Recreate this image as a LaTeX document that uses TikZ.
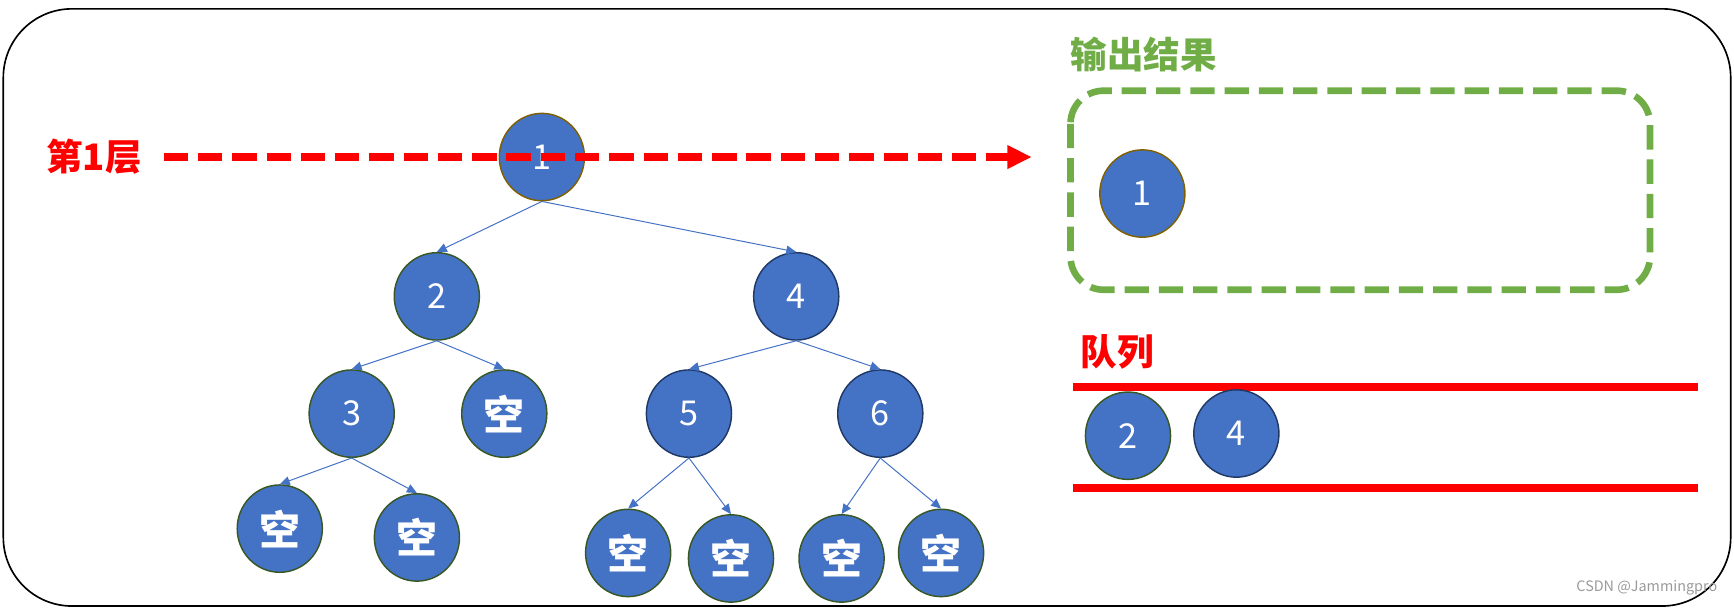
\documentclass[tikz,border=0pt]{standalone}
\usepackage{fontspec}
\setmainfont{Noto Sans CJK SC}
\usetikzlibrary{shapes.geometric,arrows.meta}
\definecolor{nodeblue}{HTML}{4472C4}
\definecolor{rimgreen}{HTML}{385723}
\definecolor{rimbrown}{HTML}{7F6000}
\definecolor{rimnavy}{HTML}{203864}
\definecolor{outgreen}{HTML}{70AD47}
\definecolor{qred}{HTML}{FF0000}
\definecolor{markgray}{HTML}{9A9A9A}

\begin{document}
\begin{tikzpicture}[x=1pt,y=-1pt,
  tn/.style={ellipse, fill=nodeblue, draw=rimgreen, line width=1.3pt,
    minimum width=77pt, minimum height=79pt, inner sep=0pt, text=white,
    font=\fontsize{31}{31}\selectfont},
  emp/.style={tn, font=\fontsize{37}{37}\selectfont\bfseries},
  brownrim/.style={draw=rimbrown},
  navyrim/.style={draw=rimnavy},
  edge/.style={draw=nodeblue, line width=0.9pt, -{Triangle[length=9pt,width=8pt]}},
  title/.style={font=\fontsize{33}{33}\selectfont\bfseries, inner sep=0pt},
  lvlarrow/.style={draw=qred, line width=6.5pt, dash pattern=on 22pt off 9pt,
    -{Triangle[length=22pt,width=20pt]}},
]
\useasboundingbox (0,0) rectangle (1568,550);

% outer frame
\draw[line width=1.5pt, rounded corners=62pt] (3,8) rectangle (1565,548);

% binary tree
\node[tn, brownrim] (n1) at (490,142) {1};
\node[tn] (n2) at (395,268) {2};
\node[tn, navyrim] (n4) at (720,268) {4};
\node[tn] (n3) at (318,374) {3};
\node[emp] (e2) at (456,374) {空};
\node[tn, navyrim] (n5) at (623,374) {5};
\node[tn, navyrim] (n6) at (796,374) {6};
\node[emp] (e3a) at (253,478) {空};
\node[emp] (e3b) at (377,486) {空};
\node[emp] (e5a) at (568,500) {空};
\node[emp] (e5b) at (661,505) {空};
\node[emp] (e6a) at (761,505) {空};
\node[emp] (e6b) at (851,500) {空};

\draw[edge] (n1.south) -- (n2.north);
\draw[edge] (n1.south) -- (n4.north);
\draw[edge] (n2.south) -- (n3.north);
\draw[edge] (n2.south) -- (e2.north);
\draw[edge] (n4.south) -- (n5.north);
\draw[edge] (n4.south) -- (n6.north);
\draw[edge] (n3.south) -- (e3a.north);
\draw[edge] (n3.south) -- (e3b.north);
\draw[edge] (n5.south) -- (e5a.north);
\draw[edge] (n5.south) -- (e5b.north);
\draw[edge] (n6.south) -- (e6a.north);
\draw[edge] (n6.south) -- (e6b.north);

% level marker
\node[title, text=qred] (lvl) at (85,142) {第1层};
\coordinate (lvlstart) at (148,142);
\coordinate (lvlend) at (933,142);
\draw[lvlarrow] (lvlstart) -- (lvlend);

% output area
\node[title, text=outgreen, anchor=west] (outtitle) at (968,49) {输出结果};
\draw[outgreen, line width=6pt, dash pattern=on 22pt off 9pt, rounded corners=30pt]
  (968,82) rectangle (1492,262);
\node[tn, brownrim] (o1) at (1033,175) {1};

% queue
\node[title, text=qred, anchor=west] (qtitle) at (977,318) {队列};
\draw[qred, line width=7pt] (970,350) -- (1535,350);
\draw[qred, line width=7pt] (970,441) -- (1535,441);
\node[tn] (q2) at (1020,394) {2};
\node[tn, navyrim] (q4) at (1118,392) {4};

% watermark
\node[text=markgray, font=\fontsize{13}{13}\selectfont, anchor=east, inner sep=0pt] (mark) at (1553,531) {CSDN @Jammingpro};
\end{tikzpicture}
\end{document}
